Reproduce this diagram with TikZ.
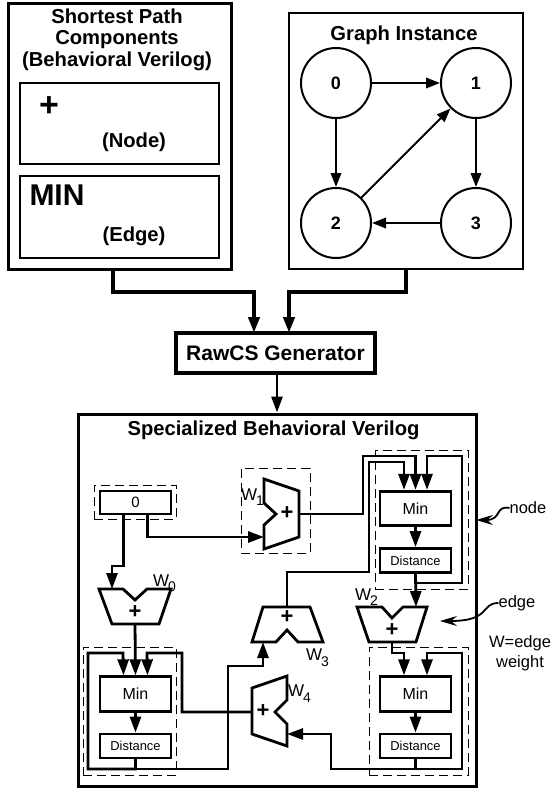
\documentclass[tikz,border=0pt]{standalone}
\usepackage{fontspec}
\setmainfont{Liberation Sans}
\usepackage{tikz}
\usetikzlibrary{arrows.meta}
\newcommand{\wsub}[2][-1pt]{W\kern#1\raisebox{-5.5pt}{\fontsize{14}{16}\selectfont #2}}
\tikzset{
    outerbox/.style = {shape=rectangle, draw, line width=3pt, inner sep=0pt},
    innerbox/.style = {outerbox, line width=2.8pt},
    genbox/.style   = {outerbox, line width=4pt, font=\bfseries\fontsize{21}{24}\selectfont},
    minbox/.style   = {innerbox, minimum width=71, minimum height=34.5, font=\fontsize{16}{18}\selectfont},
    distbox/.style  = {innerbox, minimum width=71, minimum height=24, font=\fontsize{12.9}{15}\selectfont},
    region/.style   = {shape=rectangle, draw, line width=1pt, dash pattern=on 9pt off 5pt, inner sep=0pt},
    vertex/.style   = {circle, draw, line width=2pt, minimum size=70, inner sep=0pt, font=\bfseries\fontsize{18}{20}\selectfont},
    headline/.style = {align=center, font=\bfseries\fontsize{20.2}{21.5}\selectfont},
    bigglyph/.style = {font=\bfseries\fontsize{30}{32}\selectfont},
    mux/.style      = {draw, line width=2.8pt, line join=miter},
    plus/.style     = {font=\bfseries\fontsize{22}{24}\selectfont},
    weight/.style   = {font=\fontsize{17}{18}\selectfont, inner sep=0pt},
    note/.style     = {font=\fontsize{16.5}{20}\selectfont, align=center, inner sep=0pt},
    wire/.style     = {draw, line width=2.8pt, line join=miter},
    thinwire/.style = {draw, line width=2pt},
    busline/.style  = {draw, line width=4pt, line join=miter},
    tip/.style      = {-{Triangle[length=16pt,width=11pt]}},
    gtip/.style     = {-{Triangle[length=14pt,width=10.5pt]}},
    swoop/.style    = {draw, line width=1.8pt, -{Stealth[length=17pt,width=10pt,inset=6pt]}}
}
\begin{document}
\begin{tikzpicture}[x=1pt, y=-1pt]
    \useasboundingbox (0,0) rectangle (552,788);
    % components
    \node[outerbox, minimum width=223, minimum height=266] (comp) at (119.5,136) {};
    \node[headline] (comptitle) at (117,39.5) {Shortest Path\\Components\\(Behavioral Verilog)};
    \node[innerbox, minimum width=199, minimum height=81] (nodebox) at (119.5,123.5) {};
    \node[innerbox, minimum width=199, minimum height=82] (edgebox) at (119.5,217) {};
    \node[bigglyph, font=\bfseries\fontsize{34}{36}\selectfont] (plusglyph) at (49,107) {+};
    \node[headline] (nodetext) at (134,142) {(Node)};
    \node[bigglyph] (minglyph) at (57,195) {MIN};
    \node[headline] (edgetext) at (134,236) {(Edge)};

    % graph
    \node[outerbox, line width=2.6pt, minimum width=234, minimum height=256] (graph) at (406,141) {};
    \node[headline] (graphtitle) at (404,35) {Graph Instance};
    \node[vertex] (v0) at (336,83) {0};
    \node[vertex] (v1) at (476,83) {1};
    \node[vertex] (v2) at (336,223) {2};
    \node[vertex] (v3) at (476,223) {3};
    \draw[thinwire, gtip] (v0) -- (v1);
    \draw[thinwire, gtip] (v0) -- (v2);
    \draw[thinwire, gtip] (v1) -- (v3);
    \draw[thinwire, gtip] (v3) -- (v2);
    \draw[thinwire, gtip] (v2) -- (v1);

    % generator
    \node[genbox, minimum width=199, minimum height=40] (gen) at (275.5,353) {RawCS Generator};
    \draw[busline, tip] (113,269) -- (113,292) -- (254,292) -- (254,333);
    \draw[busline, tip] (406,269) -- (406,292) -- (289,292) -- (289,333);

    % verilog
    \node[outerbox, minimum width=398, minimum height=372] (verilog) at (277,600) {};
    \node[headline] (verilogtitle) at (273.5,430) {Specialized Behavioral Verilog};
    \draw[wire, tip] (verilog.north |- gen.south) -- (verilog.north);

    \node[region, minimum width=82, minimum height=34] (zeroregion) at (135,502) {};
    \node[innerbox, minimum width=71, minimum height=23, font=\fontsize{15}{17}\selectfont] (zero) at (135.5,502.5) {0};
    \node[region, minimum width=69, minimum height=85] (w1region) at (275.5,510.5) {};
    \node[region, minimum width=93, minimum height=139] (toprregion) at (421.5,519.5) {};
    \node[region, minimum width=93, minimum height=128] (botlregion) at (129.5,711) {};
    \node[region, minimum width=99, minimum height=128] (botrregion) at (418.5,711) {};

    \node[minbox] (mintop) at (415.5,508.5) {Min};
    \node[distbox] (disttop) at (415.5,560.5) {Distance};
    \node[minbox] (minl) at (135.5,694) {Min};
    \node[distbox] (distl) at (135.5,746) {Distance};
    \node[minbox] (minr) at (415.5,694) {Min};
    \node[distbox] (distr) at (415.5,746) {Distance};

    \draw[mux] (99,589) -- (123,589) -- (135,600) -- (147,589) -- (171,589) -- (159,624) -- (112,624) -- cycle;
    \draw[mux] (264,479) -- (299,491) -- (299,537) -- (264,549) -- (264,525) -- (276,514) -- (264,503) -- cycle;
    \draw[mux] (357,607) -- (382,607) -- (392,618) -- (403,607) -- (427,607) -- (416,642) -- (369,642) -- cycle;
    \draw[mux] (263,607) -- (310,607) -- (323,642) -- (298,642) -- (287,630) -- (276,642) -- (252,642) -- cycle;
    \draw[mux] (252,688) -- (287,676) -- (287,700) -- (275,712) -- (287,724) -- (287,746) -- (252,734) -- cycle;
    \node[plus] (plus0) at (135,612) {+};
    \node[plus] (plus1) at (287,513) {+};
    \node[plus] (plus2) at (392,630) {+};
    \node[plus] (plus3) at (287,617) {+};
    \node[plus] (plus4) at (263,711) {+};
    \node[weight] (w0) at (164.5,583) {\wsub{0}};
    \node[weight] (w1) at (252.5,497) {\wsub{1}};
    \node[weight] (w2) at (366.5,597) {\wsub{2}};
    \node[weight] (w3) at (317.5,657.5) {\wsub{3}};
    \node[weight] (w4) at (299.5,693.5) {\wsub{4}};

    \coordinate (w0in) at (112,589);
    \coordinate (w0out) at (135,624);
    \coordinate (w1ina) at (264,537);
    \coordinate (w1out) at (299,514);
    \coordinate (w2in) at (416,607);
    \coordinate (w2out) at (392,642);
    \coordinate (w3in) at (263,642);
    \coordinate (w3out) at (287,607);
    \coordinate (w4ina) at (252,712);
    \coordinate (w4inb) at (287,734);

    \draw[wire, tip] ([xshift=-12pt]zero.south) -- (123.5,566) -- (112,566) -- (w0in);
    \draw[wire, tip] ([xshift=12pt]zero.south) -- (147.5,537) -- (w1ina);
    \draw[wire, tip] (w0out) -- (minl.north);
    \draw[wire, tip] (w1out) -- (363,514) -- (363,456) -- (415.5,456) -- (mintop.north);
    \draw[wire, tip] (w3out) -- (287,572) -- (369,572) -- (369,462) -- (404,462) -- ([xshift=-11.5pt]mintop.north);
    \draw[wire, tip] (disttop.south) -- (415.5,583) -- (462,583) -- (462,456) -- (427,456) -- ([xshift=11.5pt]mintop.north);
    \draw[wire, tip] (mintop) -- (disttop);
    \draw[wire, tip] (disttop.south) -- (w2in);
    \draw[wire, tip] (w2out) -- (392,653) -- (404,653) -- ([xshift=-11.5pt]minr.north);
    \draw[wire, tip] (minr) -- (distr);
    \draw[wire, tip] (distr.south) -- (415.5,769) -- (462,769) -- (462,653) -- (427,653) -- ([xshift=11.5pt]minr.north);
    \draw[wire, tip] (distr.south) -- (415.5,769) -- (331,769) -- (331,734) -- (w4inb);
    \draw[wire, tip] (minl) -- (distl);
    \draw[wire, tip] (distl.south) -- (135.5,769) -- (88,769) -- (88,653) -- (123,653) -- ([xshift=-12pt]minl.north);
    \draw[wire, tip] (w4ina) -- (182,712) -- (182,653) -- (147,653) -- ([xshift=12pt]minl.north);
    \draw[wire, tip] (distl.south) -- (135.5,769) -- (228,769) -- (228,666) -- (263,666) -- (w3in);

    % annotations
    \node[note] (nodelabel) at (528,508) {node};
    \node[note] (edgelabel) at (517,603) {edge};
    \node[note] (weightnote) at (520,653) {W=edge\\weight};
    \draw[swoop] (nodelabel.west) .. controls (495,505) and (502,520) .. (476,520);
    \draw[swoop] (edgelabel.west) .. controls (480,603) and (492,621) .. (440,621);
\end{tikzpicture}
\end{document}
